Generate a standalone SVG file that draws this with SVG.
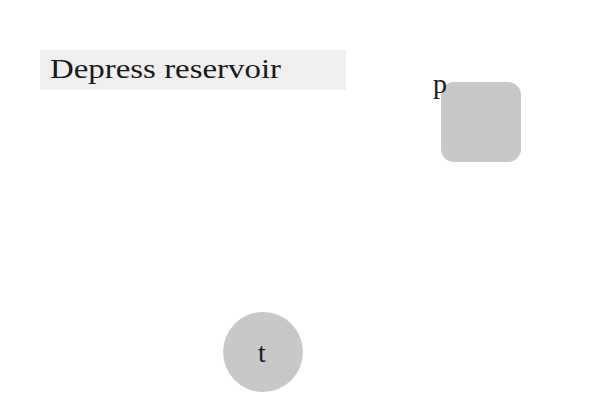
<svg xmlns="http://www.w3.org/2000/svg" width="600" height="400" viewBox="0 0 600 400">
<style>
text{font-family:"Liberation Serif","DejaVu Serif",serif;fill:#1a1a1a;font-size:28px}
.shape{fill:#c8c8c8}
</style>
<rect width="600" height="400" fill="#ffffff"/>
<g id="title">
<rect x="40" y="50" width="306" height="40" fill="#efefef"/>
<text x="50" y="78" textLength="231" lengthAdjust="spacingAndGlyphs">Depress reservoir</text>
</g>
<g id="node-p">
<rect class="shape" x="441" y="82" width="80" height="80" rx="13" ry="13"/>
<text x="433" y="93">p</text>
</g>
<g id="node-t">
<circle class="shape" cx="263" cy="352" r="40"/>
<text x="262" y="362" text-anchor="middle">t</text>
</g>
<g id="connectors"></g>
</svg>
